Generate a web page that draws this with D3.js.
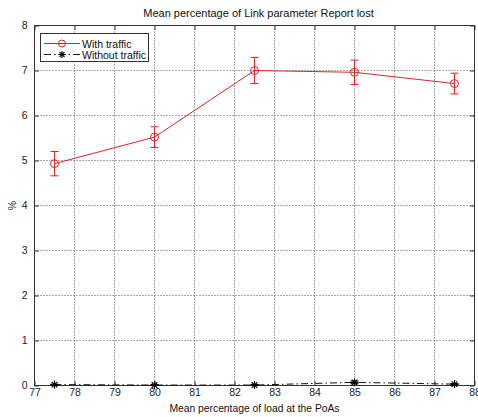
<!DOCTYPE html>
<html>
<head>
<meta charset="utf-8">
<script src="https://cdn.jsdelivr.net/npm/d3@7"></script>
<style>
  body { margin: 0; background: #fff; }
  svg { display: block; font-family: "Liberation Sans", Arial, sans-serif; }
</style>
</head>
<body>
<div id="chart"></div>
<script>
// Data
const loads = [77.5, 80, 82.5, 85, 87.5];
const withTraffic = [4.93, 5.52, 7.0, 6.96, 6.71];
const withTrafficErr = [0.27, 0.23, 0.29, 0.27, 0.23];
const withoutTraffic = [0.02, 0.01, 0.01, 0.07, 0.03];
const withoutTrafficErr = [0.01, 0.01, 0.01, 0.03, 0.01];
const xTicks = [77, 78, 79, 80, 81, 82, 83, 84, 85, 86, 87, 88];
const yTicks = [0, 1, 2, 3, 4, 5, 6, 7, 8];

const W = 478, H = 417;
const margin = { top: 25.5, left: 34.5 };
const width = 440, height = 360;
const fs = '10.5px';

const svg = d3.select('#chart').append('svg')
    .attr('width', W).attr('height', H);

const g = svg.append('g')
    .attr('transform', `translate(${margin.left},${margin.top})`);

const x = d3.scaleLinear().domain([77, 88]).range([0, width]);
const y = d3.scaleLinear().domain([0, 8]).range([height, 0]);

// dotted grid
g.append('g').selectAll('line')
    .data(xTicks.slice(1, -1))
    .join('line')
    .attr('x1', d => x(d)).attr('x2', d => x(d))
    .attr('y1', 0).attr('y2', height)
    .attr('stroke', '#555').attr('stroke-width', 1)
    .attr('stroke-dasharray', '1,2');
g.append('g').selectAll('line')
    .data(yTicks.slice(1, -1))
    .join('line')
    .attr('x1', 0).attr('x2', width)
    .attr('y1', d => y(d)).attr('y2', d => y(d))
    .attr('stroke', '#555').attr('stroke-width', 1)
    .attr('stroke-dasharray', '1,2');

// axes (ticks inward, MATLAB style)
const tk = 4.5;
g.append('g')
    .attr('transform', `translate(0,${height})`)
    .call(d3.axisBottom(x).tickValues(xTicks).tickSize(-tk).tickPadding(3).tickFormat(d3.format('d')))
    .call(a => a.select('.domain').remove());
g.append('g')
    .call(d3.axisTop(x).tickValues(xTicks).tickSize(-tk).tickFormat(''))
    .call(a => a.select('.domain').remove());
g.append('g')
    .call(d3.axisLeft(y).tickValues(yTicks).tickSize(-tk).tickPadding(7).tickFormat(d3.format('d')))
    .call(a => a.select('.domain').remove());
g.append('g')
    .attr('transform', `translate(${width},0)`)
    .call(d3.axisRight(y).tickValues(yTicks).tickSize(-tk).tickFormat(''))
    .call(a => a.select('.domain').remove());

g.selectAll('.tick line').attr('stroke', '#333');
g.selectAll('.tick text').attr('fill', '#222').style('font-size', fs);

g.append('rect')
    .attr('width', width).attr('height', height)
    .attr('fill', 'none').attr('stroke', '#333').attr('stroke-width', 1);

// series
const red = '#d8262e';
const cap = 4;

function errorBars(vals, errs, color) {
    const eb = g.append('g').attr('stroke', color).attr('stroke-width', 1);
    loads.forEach((l, i) => {
        const cx = x(l), yt = y(vals[i] + errs[i]), yb = y(vals[i] - errs[i]);
        eb.append('line').attr('x1', cx).attr('x2', cx).attr('y1', yt).attr('y2', yb);
        eb.append('line').attr('x1', cx - cap).attr('x2', cx + cap).attr('y1', yt).attr('y2', yt);
        eb.append('line').attr('x1', cx - cap).attr('x2', cx + cap).attr('y1', yb).attr('y2', yb);
    });
}

const line = d3.line().x(d => x(d[0])).y(d => y(d[1]));

// Without traffic
errorBars(withoutTraffic, withoutTrafficErr, '#000');
g.append('path')
    .datum(loads.map((l, i) => [l, withoutTraffic[i]]))
    .attr('d', line)
    .attr('fill', 'none').attr('stroke', '#111').attr('stroke-width', 1)
    .attr('stroke-dasharray', '7,3,1.5,3');

function star(sel, cx, cy, r) {
    const s = sel.append('g').attr('stroke', '#000').attr('stroke-width', 1.2);
    s.append('line').attr('x1', cx - r).attr('x2', cx + r).attr('y1', cy).attr('y2', cy);
    s.append('line').attr('x1', cx).attr('x2', cx).attr('y1', cy - r).attr('y2', cy + r);
    const d = r * 0.7;
    s.append('line').attr('x1', cx - d).attr('x2', cx + d).attr('y1', cy - d).attr('y2', cy + d);
    s.append('line').attr('x1', cx - d).attr('x2', cx + d).attr('y1', cy + d).attr('y2', cy - d);
}
loads.forEach((l, i) => star(g, x(l), y(withoutTraffic[i]), 4));

// With traffic
errorBars(withTraffic, withTrafficErr, red);
g.append('path')
    .datum(loads.map((l, i) => [l, withTraffic[i]]))
    .attr('d', line)
    .attr('fill', 'none').attr('stroke', red).attr('stroke-width', 1);
g.selectAll('.pt')
    .data(loads.map((l, i) => [l, withTraffic[i]]))
    .join('circle')
    .attr('cx', d => x(d[0])).attr('cy', d => y(d[1]))
    .attr('r', 4).attr('fill', 'none').attr('stroke', red).attr('stroke-width', 1);

// legend
const lg = svg.append('g');
lg.append('rect')
    .attr('x', 40.5).attr('y', 33.5).attr('width', 108).attr('height', 28)
    .attr('fill', '#fff').attr('stroke', '#333').attr('stroke-width', 1);
lg.append('line').attr('x1', 44).attr('x2', 80).attr('y1', 43.5).attr('y2', 43.5)
    .attr('stroke', red);
lg.append('circle').attr('cx', 62).attr('cy', 43.5).attr('r', 3.5)
    .attr('fill', 'none').attr('stroke', red);
lg.append('line').attr('x1', 44).attr('x2', 80).attr('y1', 54.5).attr('y2', 54.5)
    .attr('stroke', '#111').attr('stroke-dasharray', '7,3,1.5,3');
star(lg, 62, 54.5, 3.5);
lg.append('text').attr('x', 82).attr('y', 47.5).text('With traffic')
    .style('font-size', fs).attr('fill', '#111');
lg.append('text').attr('x', 82).attr('y', 58.5).text('Without traffic')
    .style('font-size', fs).attr('fill', '#111');

// titles
svg.append('text')
    .attr('x', margin.left + width / 2 + 4).attr('y', 17)
    .attr('text-anchor', 'middle')
    .style('font-size', '11px').attr('fill', '#111')
    .text('Mean percentage of Link parameter Report lost');
svg.append('text')
    .attr('x', margin.left + width / 2).attr('y', 412)
    .attr('text-anchor', 'middle')
    .style('font-size', '10.3px').attr('fill', '#111')
    .text('Mean percentage of load at the PoAs');
svg.append('text')
    .attr('transform', `translate(16,${margin.top + height / 2}) rotate(-90)`)
    .attr('text-anchor', 'middle')
    .style('font-size', fs).attr('fill', '#111')
    .text('%');
</script>
</body>
</html>
